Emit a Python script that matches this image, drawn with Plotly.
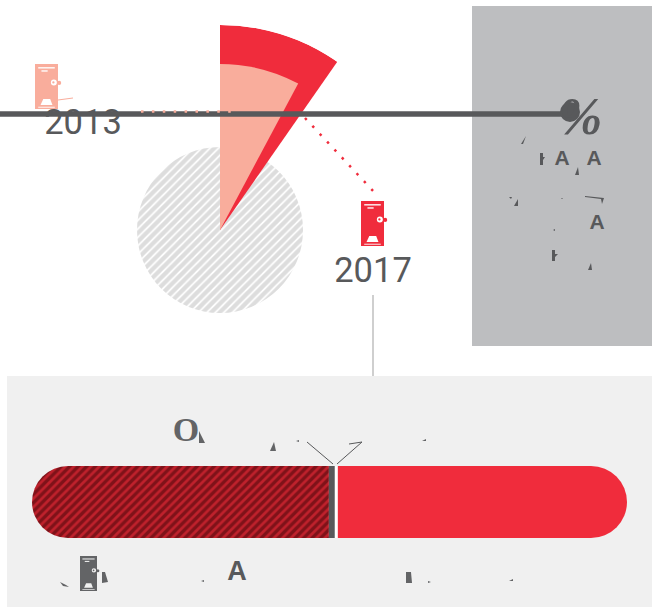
import plotly.graph_objects as go

W, H = 652, 607
DARK = "#58595b"
RED = "#f02c3c"
PEACH = "#f9ad9c"

# Data
wedge_names = ["base", "2017", "2013"]
wedge_radius = [83, 205, 166]
wedge_angle = [360, 34.9, 28.1]
wedge_colors = ["#ffffff", RED, PEACH]

bar_names = ["hatched", "divider", "gap", "remainder"]
bar_values = [49.9, 1.0, 0.5, 48.6]

year_labels = ["2013", "2017"]
year_x = [83, 373]
year_y = [125, 273]

glyphs_a = ["A", "A", "A", "A"]
glyph_a_x = [562, 594, 597, 237]
glyph_a_y = [160, 160, 224, 573]
glyph_a_size = [21, 21, 21, 27]


def dom_x(a, b):
    return [a / W, b / W]


def dom_y(top, bottom):
    return [(H - bottom) / H, (H - top) / H]


fig = go.Figure()

# Pixel-space text (sits below the thick rule, which is an upper shape)
fig.add_trace(go.Scatter(
    x=year_x, y=year_y, text=year_labels, mode="text", hoverinfo="skip",
    textfont=dict(family="Roboto", size=34.5, color=DARK), showlegend=False))
fig.add_trace(go.Scatter(
    x=glyph_a_x, y=glyph_a_y, text=glyphs_a, mode="text", hoverinfo="skip",
    textfont=dict(family="Liberation Sans", size=glyph_a_size,
                  color=DARK, weight="bold"), showlegend=False))
fig.add_trace(go.Scatter(
    x=[186], y=[432], text=["O"], mode="text", hoverinfo="skip",
    textfont=dict(family="Liberation Serif", size=34, color="#636466", weight="bold"),
    showlegend=False))

# Polar wedges
for i, name in enumerate(wedge_names):
    if i == 0:
        marker = dict(color="#ffffff", line=dict(width=0),
                      pattern=dict(shape="/", bgcolor="#ffffff", fgcolor="#bcbcbc",
                                   size=6, solidity=0.7))
    else:
        marker = dict(color=wedge_colors[i], line=dict(width=0))
    fig.add_trace(go.Barpolar(
        r=[wedge_radius[i]], theta=[wedge_angle[i] / 2], width=[wedge_angle[i]],
        marker=marker, name=name, hoverinfo="skip", showlegend=False))

# Long rounded bar: stacked outward from the split so only the far ends are rounded
hatched, divider, gap, remainder = bar_values
fig.add_trace(go.Bar(
    y=["share"], x=[-hatched], orientation="h", width=1,
    xaxis="x2", yaxis="y2", hoverinfo="skip", showlegend=False,
    marker=dict(color="#7f1219", cornerradius=36, line=dict(width=0),
                pattern=dict(shape="/", bgcolor="#7f1219", fgcolor="#ff2f40",
                             size=6, solidity=0.45))))
fig.add_trace(go.Bar(
    y=["share"], x=[divider], orientation="h", width=1,
    xaxis="x2", yaxis="y2", hoverinfo="skip", showlegend=False,
    marker=dict(color=DARK, line=dict(width=0))))
fig.add_trace(go.Bar(
    y=["share"], x=[gap], orientation="h", width=1,
    xaxis="x2", yaxis="y2", hoverinfo="skip", showlegend=False,
    marker=dict(color="#ffffff", line=dict(width=0))))
fig.add_trace(go.Bar(
    y=["share"], x=[remainder], orientation="h", width=1,
    xaxis="x2", yaxis="y2", hoverinfo="skip", showlegend=False,
    marker=dict(color=RED, cornerradius=36, line=dict(width=0))))

shapes = []


def rect(x0, y0, x1, y1, color, layer="below"):
    shapes.append(dict(type="rect", xref="x", yref="y", x0=x0, y0=y0, x1=x1, y1=y1,
                       fillcolor=color, line=dict(width=0), layer=layer))


def line(x0, y0, x1, y1, color, width, dash="solid", layer="above"):
    shapes.append(dict(type="line", xref="x", yref="y", x0=x0, y0=y0, x1=x1, y1=y1,
                       line=dict(color=color, width=width, dash=dash), layer=layer))


def poly(points, color, layer="above"):
    path = "M" + " L".join(f"{x},{y}" for x, y in points) + " Z"
    shapes.append(dict(type="path", xref="x", yref="y", path=path,
                       fillcolor=color, line=dict(width=0), layer=layer))


def circle(cx, cy, r, color, layer="above"):
    shapes.append(dict(type="circle", xref="x", yref="y", x0=cx - r, y0=cy - r,
                       x1=cx + r, y1=cy + r, fillcolor=color, line=dict(width=0), layer=layer))


def icon(x, y, w, h, color, bg):
    sx = lambda u: x + u * w
    sy = lambda v: y + v * h
    rect(x, y, x + w, y + h, color, "above")
    rect(sx(.14), sy(.07), sx(.86), sy(.10), bg, "above")
    rect(sx(.28), sy(.14), sx(.55), sy(.17), bg, "above")
    rect(sx(.14), sy(.95), sx(.86), sy(.97), bg, "above")
    poly([(sx(.24), sy(.91)), (sx(.36), sy(.78)), (sx(.66), sy(.78)), (sx(.76), sy(.91))], bg)
    circle(sx(.82), sy(.41), w * .13, bg)
    circle(sx(.80), sy(.41), w * .05, color)
    circle(sx(1.05), sy(.42), w * .09, color)


# Panels
rect(472, 6, 652, 346, "#bdbec0")
rect(7, 376, 652, 607, "#f0f0f0")
line(373, 295, 373, 376, "#cfcfcf", 2, layer="below")

# Thick rule and dotted leaders
line(0, 114, 562, 114, DARK, 5.5)
circle(570, 112, 10, DARK)
line(141, 111.5, 232, 111.5, PEACH, 2.5, dash="2.5px,8.4px")
line(305, 118, 375, 193, RED, 2.5, dash="2.5px,8.3px")

# Icons
icon(35, 64, 23, 45, PEACH, "#ffffff")
line(58, 100, 73, 98, PEACH, 1)
icon(361, 201, 23, 45, RED, "#ffffff")
icon(80, 556, 17, 35, "#636466", "#f0f0f0")

# Leader lines at bar
line(307, 442, 333, 464, DARK, 1)
line(337, 464, 362, 442, DARK, 1)
line(362, 442, 349, 444, DARK, 1)

# Glyph fragments
frag = DARK
poly([(521, 144), (526, 136), (523, 144)], frag)
poly([(540, 153), (543, 153), (543, 157), (545, 157), (543, 160), (543, 165), (540, 165)], frag)
poly([(575, 175), (578, 167), (579, 175)], frag)
poly([(514, 206), (518, 199), (518, 206)], frag)
poly([(509, 197), (512, 197), (511, 199)], frag)
poly([(561, 198), (563, 198), (562, 199)], frag)
poly([(585, 196), (604, 198), (602, 204), (601, 199), (585, 197)], frag)
poly([(553, 230), (555, 229), (555, 231)], frag)
poly([(552, 250), (555, 250), (555, 254), (558, 254), (555, 257), (555, 261), (552, 261)], frag)
poly([(588, 270), (591, 263), (592, 270)], frag)
poly([(270, 451), (274, 442), (276, 451)], "#636466")
poly([(296, 441), (299, 440), (299, 442)], "#636466")
poly([(422, 441), (426, 439), (426, 441)], "#636466")
poly([(199, 443), (199, 431), (205, 443)], "#636466")
poly([(60, 582), (66, 585), (69, 587), (63, 586)], "#636466")
poly([(102, 572), (105, 572), (108, 582), (102, 583)], "#636466")
poly([(201, 581), (204, 580), (204, 582)], "#636466")
poly([(406, 572), (411, 572), (412, 583), (406, 583)], "#636466")
poly([(428, 581), (431, 582), (428, 583)], "#636466")
poly([(509, 581), (513, 579), (513, 581)], "#636466")

axis_off = dict(visible=False, fixedrange=True)
fig.update_layout(
    width=W, height=H, margin=dict(l=0, r=0, t=0, b=0),
    paper_bgcolor="#ffffff", plot_bgcolor="rgba(0,0,0,0)",
    showlegend=False, barmode="relative", shapes=shapes,
    xaxis=dict(range=[0, W], domain=[0, 1], **axis_off),
    yaxis=dict(range=[H, 0], domain=[0, 1], **axis_off),
    xaxis2=dict(range=[-hatched, divider + gap + remainder], domain=dom_x(32, 627),
                anchor="y2", **axis_off),
    yaxis2=dict(domain=dom_y(466, 538), range=[-.5, .5], anchor="x2", type="category", **axis_off),
    polar=dict(
        domain=dict(x=dom_x(15, 425), y=dom_y(25, 435)),
        bgcolor="rgba(0,0,0,0)",
        radialaxis=dict(visible=False, range=[0, 205]),
        angularaxis=dict(visible=False, rotation=90, direction="clockwise"),
    ),
    annotations=[dict(
        x=580, y=116, xref="x", yref="y", text="<b><i>%</i></b>", showarrow=False,
        font=dict(family="Liberation Serif", size=52, color=DARK))],
)
fig.write_html("out.html", config=dict(displayModeBar=False),
               post_script="document.body.style.margin='0';")
